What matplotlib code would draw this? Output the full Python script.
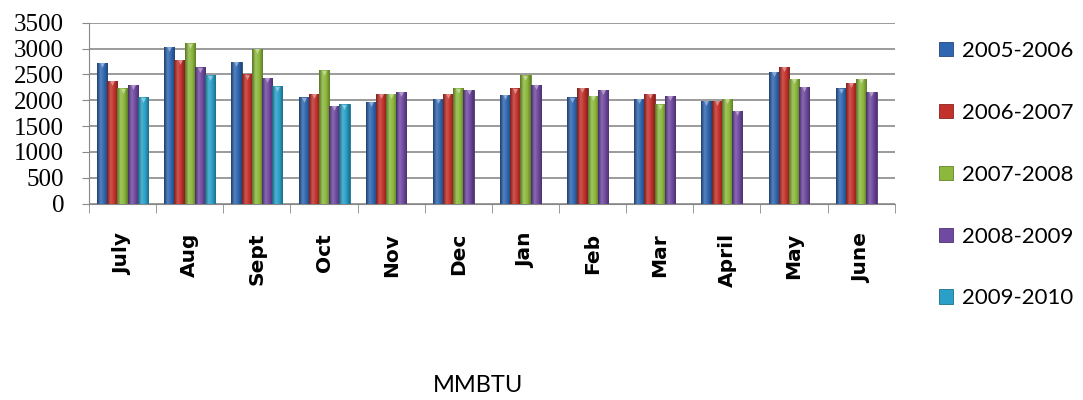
import numpy as np
import matplotlib.pyplot as plt
from matplotlib.colors import LinearSegmentedColormap, to_rgb

# monthly gas consumption, one list per financial year
months = ['July', 'Aug', 'Sept', 'Oct', 'Nov', 'Dec', 'Jan', 'Feb', 'Mar', 'April', 'May', 'June']
y0506 = [2720, 3030, 2750, 2060, 1970, 2030, 2100, 2060, 2030, 1990, 2550, 2230]
y0607 = [2380, 2780, 2500, 2130, 2120, 2120, 2230, 2240, 2130, 1990, 2650, 2340]
y0708 = [2230, 3100, 2990, 2580, 2120, 2230, 2480, 2090, 1920, 2030, 2410, 2410]
y0809 = [2300, 2640, 2440, 1890, 2170, 2200, 2300, 2200, 2090, 1790, 2260, 2170]
y0910 = [2060, 2480, 2270, 1920, None, None, None, None, None, None, None, None]

years = ['2005-2006', '2006-2007', '2007-2008', '2008-2009', '2009-2010']
series = [y0506, y0607, y0708, y0809, y0910]
colors = ['#2f66b0', '#c2312c', '#8cb83c', '#7049a0', '#2aa0c8']

fig = plt.figure(figsize=(10.83, 4), dpi=100)
ax = fig.add_axes([0.0822, 0.491, 0.744, 0.452])

x = np.arange(len(months))
w = 0.152


def shade(c, f):
    r, g, b = to_rgb(c)
    if f < 1:
        return (r * f, g * f, b * f)
    return tuple(v + (1 - v) * (f - 1) for v in (r, g, b))


grad = np.linspace(0, 1, 64).reshape(1, -1)
handles = []
for k, (vals, c, lab) in enumerate(zip(series, colors, years)):
    v = np.array([np.nan if a is None else a for a in vals], dtype=float)
    bars = ax.bar(x + (k - 2) * w, v, w, color=c, edgecolor=shade(c, 0.7),
                  linewidth=0.6, zorder=3, label=lab)
    handles.append(bars)
    # glossy cylinder look: dark edges, lighter stripe left of centre
    cm = LinearSegmentedColormap.from_list(
        'g%d' % k, [shade(c, 0.62), shade(c, 1.18), c, shade(c, 0.68)])
    for b in bars:
        h = b.get_height()
        if not np.isfinite(h):
            continue
        x0 = b.get_x()
        im = ax.imshow(grad, extent=[x0, x0 + w, 0, h], aspect='auto',
                       cmap=cm, zorder=3.5, interpolation='bilinear')
        im.set_clip_path(b)
        ax.plot(x0 + w / 2, h - 45, marker='v', ms=3.5, color=shade(c, 1.45),
                mec='none', zorder=4)

ax.set_xlim(-0.5, 11.5)
ax.set_ylim(0, 3500)
ax.set_yticks(range(0, 3501, 500))
ax.tick_params(axis='y', labelsize=18, length=5, pad=13, color='#888888')
for t in ax.get_yticklabels():
    t.set_family('Liberation Serif')

ax.set_xticks(x, months, rotation=90, fontweight='bold', fontsize=14.5)
ax.set_xticks(np.arange(-0.5, 12, 1), minor=True)
ax.tick_params(axis='x', which='major', length=0, pad=21)
ax.tick_params(axis='x', which='minor', length=6.5, color='#888888')
for t in ax.get_xticklabels():
    t.set_va('top')

ax.grid(axis='y', color='#8a8a8a', linewidth=1.2, zorder=0)
ax.set_axisbelow(True)
for s in ['top', 'right']:
    ax.spines[s].set_visible(False)
for s in ['left', 'bottom']:
    ax.spines[s].set_color('#888888')

fig.legend(handles=handles, labels=years, loc='upper left',
           bbox_to_anchor=(0.849, 0.947), frameon=False,
           prop={'family': 'Lato', 'size': 16}, labelspacing=1.88,
           handlelength=0.6, handleheight=0.6, handletextpad=0.4)

fig.text(478 / 1083, 1 - 386 / 400, 'MMBTU', ha='center', va='center',
         fontsize=17, family='Lato')

fig.savefig('out.png', dpi=100)
